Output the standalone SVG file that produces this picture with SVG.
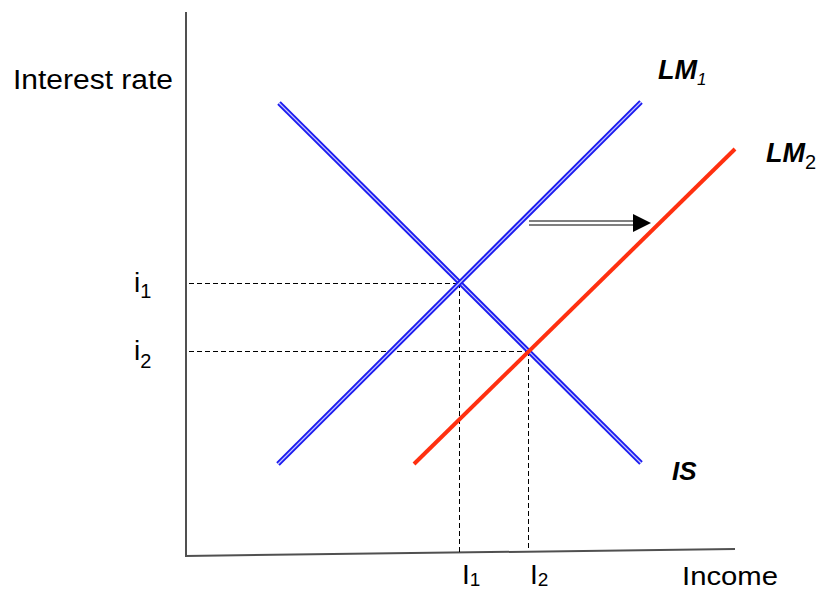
<svg xmlns="http://www.w3.org/2000/svg" width="822" height="590" viewBox="0 0 822 590">
<style>
.axis{stroke:#505050;stroke-width:2;fill:none}
.dash{stroke:#000;stroke-width:1;stroke-dasharray:5,3;fill:none}
.blue{stroke:#1c1cf0;stroke-width:5;fill:none}
.blueIn{stroke:#c8c8ff;stroke-width:1.2;fill:none}
.red{stroke:#ff3010;stroke-width:4;fill:none}
.t{font-family:"Liberation Sans",Arial,sans-serif;fill:#000}
.lab{font-family:"Liberation Sans",Arial,sans-serif;fill:#000;font-style:italic;font-weight:bold}
</style>
<rect width="822" height="590" fill="#fff"/>
<g id="axes">
<line class="axis" x1="186" y1="12" x2="186" y2="557"/>
<line class="axis" x1="185" y1="556" x2="735" y2="549"/>
<text class="t" x="13" y="89" font-size="27" textLength="160" lengthAdjust="spacingAndGlyphs">Interest rate</text>
<text class="t" x="682" y="585" font-size="25" textLength="96" lengthAdjust="spacingAndGlyphs">Income</text>
</g>
<g id="guides">
<line class="dash" x1="189" y1="283.5" x2="459" y2="283.5"/>
<line class="dash" x1="459.5" y1="283" x2="459.5" y2="553"/>
<line class="dash" x1="189" y1="351.5" x2="528" y2="351.5"/>
<line class="dash" x1="528.5" y1="351" x2="528.5" y2="551"/>
<text class="t" x="134" y="292" font-size="28">i<tspan font-size="20" dy="6">1</tspan></text>
<text class="t" x="134" y="360" font-size="28">i<tspan font-size="20" dy="8">2</tspan></text>
<text class="t" x="462" y="584" font-size="28">I<tspan font-size="19" dy="2">1</tspan></text>
<text class="t" x="530" y="584" font-size="28">I<tspan font-size="19" dy="2">2</tspan></text>
</g>
<g id="IS">
<line class="blue" x1="279" y1="103" x2="641" y2="463"/>
<line class="blueIn" x1="279" y1="103" x2="641" y2="463"/>
<text class="lab" x="672" y="480" font-size="26">IS</text>
</g>
<g id="LM1">
<line class="blue" x1="278" y1="464" x2="641" y2="102"/>
<line class="blueIn" x1="278" y1="464" x2="641" y2="102"/>
<text class="lab" x="658" y="79" font-size="27">LM<tspan font-size="17" font-weight="normal" dy="6">1</tspan></text>
</g>
<g id="LM2">
<line class="red" x1="414" y1="464" x2="735" y2="149"/>
<text class="lab" x="766" y="162" font-size="27">LM<tspan font-size="20" font-weight="normal" font-style="normal" dy="7">2</tspan></text>
</g>
<g id="connectors">
<line stroke="#000" stroke-width="1.2" x1="529" y1="221" x2="636" y2="221"/>
<line stroke="#000" stroke-width="1.2" x1="529" y1="225" x2="636" y2="225"/>
<polygon points="633,214 651,223 633,232" fill="#000"/>
</g>
</svg>
